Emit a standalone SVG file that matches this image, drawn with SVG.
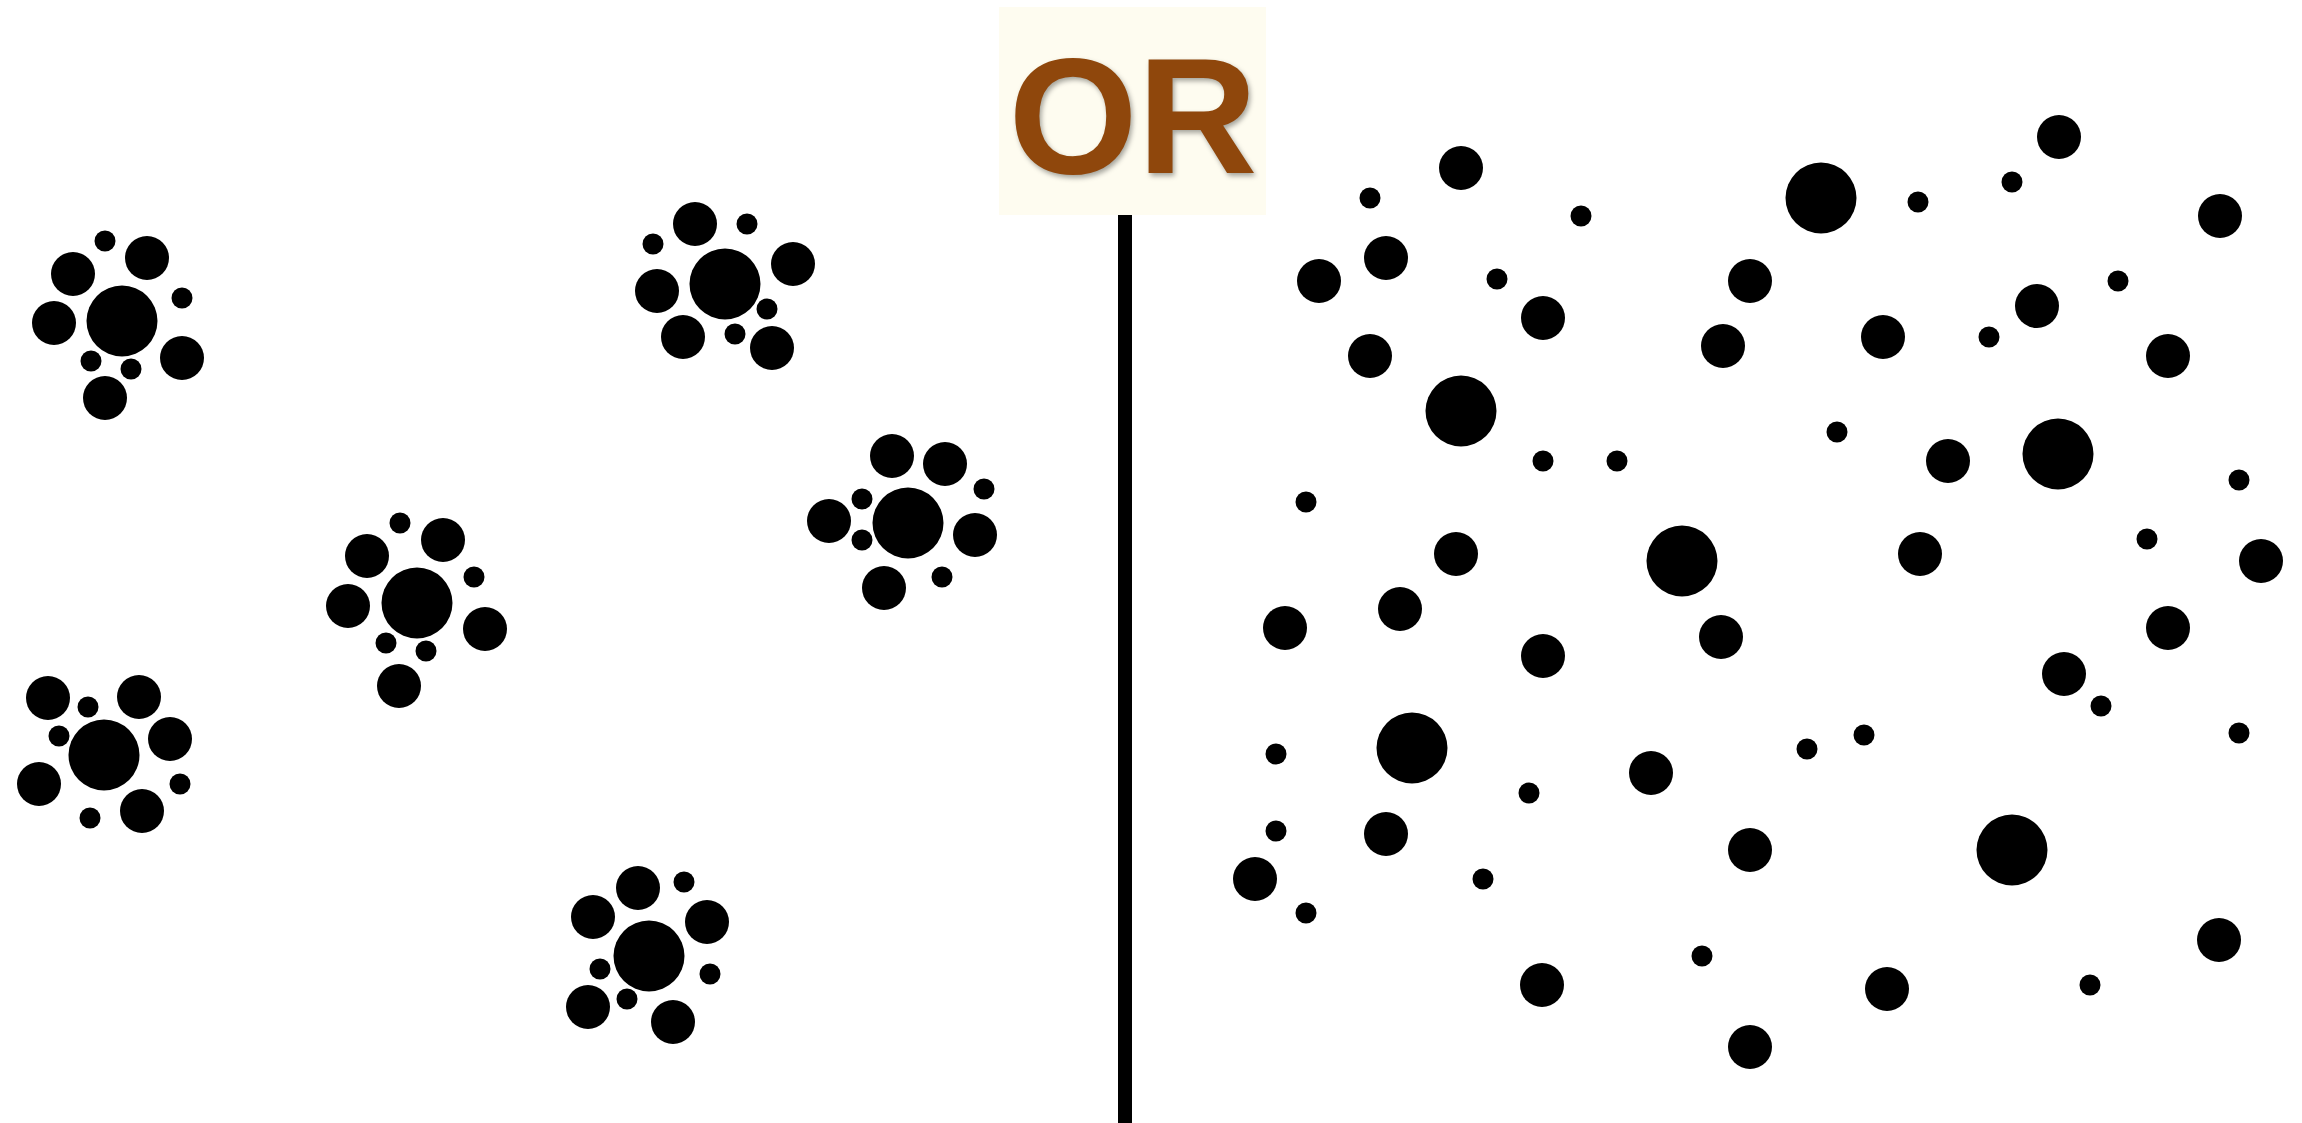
<svg xmlns="http://www.w3.org/2000/svg" width="2302" height="1123" viewBox="0 0 2302 1123">
<defs>
<style>
.d{fill:#000}
.or{font-family:"Liberation Sans",Arial,sans-serif;font-weight:bold;font-size:166px}
</style>
<filter id="blur" x="-20%" y="-20%" width="140%" height="140%">
<feGaussianBlur stdDeviation="2.5"/>
</filter>
</defs>
<rect width="2302" height="1123" fill="#fff"/>
<g id="or-label">
<rect x="999" y="7" width="267" height="208" fill="#fefcf0"/>
<text class="or" x="1135" y="176" text-anchor="middle" fill="#000" fill-opacity="0.35" filter="url(#blur)">OR</text>
<text class="or" x="1133" y="173" text-anchor="middle" fill="#8f470c">OR</text>
</g>
<g id="divider">
<rect x="1118" y="215" width="14" height="908" fill="#000"/>
</g>
<g id="cluster-a" class="d">
<circle cx="122" cy="321" r="35.5"/>
<circle cx="105" cy="241" r="10.5"/>
<circle cx="73" cy="274" r="22"/>
<circle cx="147" cy="258" r="22"/>
<circle cx="182" cy="298" r="10.5"/>
<circle cx="54" cy="323" r="22"/>
<circle cx="182" cy="358" r="22"/>
<circle cx="91" cy="361" r="10.5"/>
<circle cx="131" cy="369" r="10.5"/>
<circle cx="105" cy="398" r="22"/>
</g>
<g id="cluster-b" class="d">
<circle cx="725" cy="284" r="35.5"/>
<circle cx="695" cy="224" r="22"/>
<circle cx="747" cy="224" r="10.5"/>
<circle cx="653" cy="244" r="10.5"/>
<circle cx="793" cy="264" r="22"/>
<circle cx="657" cy="291" r="22"/>
<circle cx="767" cy="309" r="10.5"/>
<circle cx="735" cy="334" r="10.5"/>
<circle cx="683" cy="337" r="22"/>
<circle cx="772" cy="348" r="22"/>
</g>
<g id="cluster-c" class="d">
<circle cx="908" cy="523" r="35.5"/>
<circle cx="892" cy="456" r="22"/>
<circle cx="945" cy="464" r="22"/>
<circle cx="984" cy="489" r="10.5"/>
<circle cx="862" cy="499" r="10.5"/>
<circle cx="829" cy="521" r="22"/>
<circle cx="862" cy="540" r="10.5"/>
<circle cx="975" cy="535" r="22"/>
<circle cx="942" cy="577" r="10.5"/>
<circle cx="884" cy="588" r="22"/>
</g>
<g id="cluster-d" class="d">
<circle cx="417" cy="603" r="35.5"/>
<circle cx="400" cy="523" r="10.5"/>
<circle cx="367" cy="556" r="22"/>
<circle cx="443" cy="540" r="22"/>
<circle cx="474" cy="577" r="10.5"/>
<circle cx="348" cy="606" r="22"/>
<circle cx="485" cy="629" r="22"/>
<circle cx="386" cy="643" r="10.5"/>
<circle cx="426" cy="651" r="10.5"/>
<circle cx="399" cy="686" r="22"/>
</g>
<g id="cluster-e" class="d">
<circle cx="104" cy="755" r="35.5"/>
<circle cx="48" cy="698" r="22"/>
<circle cx="88" cy="707" r="10.5"/>
<circle cx="139" cy="697" r="22"/>
<circle cx="59" cy="736" r="10.5"/>
<circle cx="170" cy="739" r="22"/>
<circle cx="39" cy="784" r="22"/>
<circle cx="180" cy="784" r="10.5"/>
<circle cx="90" cy="818" r="10.5"/>
<circle cx="142" cy="811" r="22"/>
</g>
<g id="cluster-f" class="d">
<circle cx="649" cy="956" r="35.5"/>
<circle cx="638" cy="888" r="22"/>
<circle cx="684" cy="882" r="10.5"/>
<circle cx="593" cy="917" r="22"/>
<circle cx="707" cy="922" r="22"/>
<circle cx="600" cy="969" r="10.5"/>
<circle cx="710" cy="974" r="10.5"/>
<circle cx="627" cy="999" r="10.5"/>
<circle cx="588" cy="1007" r="22"/>
<circle cx="673" cy="1022" r="22"/>
</g>
<g id="scattered" class="d">
<circle cx="1461" cy="168" r="22"/>
<circle cx="1370" cy="198" r="10.5"/>
<circle cx="1581" cy="216" r="10.5"/>
<circle cx="1386" cy="258" r="22"/>
<circle cx="1319" cy="281" r="22"/>
<circle cx="1497" cy="279" r="10.5"/>
<circle cx="1543" cy="318" r="22"/>
<circle cx="1750" cy="281" r="22"/>
<circle cx="1723" cy="346" r="22"/>
<circle cx="1370" cy="356" r="22"/>
<circle cx="1461" cy="411" r="35.5"/>
<circle cx="1543" cy="461" r="10.5"/>
<circle cx="1617" cy="461" r="10.5"/>
<circle cx="1306" cy="502" r="10.5"/>
<circle cx="1821" cy="198" r="35.5"/>
<circle cx="1918" cy="202" r="10.5"/>
<circle cx="2012" cy="182" r="10.5"/>
<circle cx="2059" cy="137" r="22"/>
<circle cx="2220" cy="216" r="22"/>
<circle cx="2118" cy="281" r="10.5"/>
<circle cx="2037" cy="306" r="22"/>
<circle cx="1883" cy="337" r="22"/>
<circle cx="1989" cy="337" r="10.5"/>
<circle cx="2168" cy="356" r="22"/>
<circle cx="1837" cy="432" r="10.5"/>
<circle cx="1948" cy="461" r="22"/>
<circle cx="2058" cy="454" r="35.5"/>
<circle cx="2239" cy="480" r="10.5"/>
<circle cx="1456" cy="554" r="22"/>
<circle cx="1682" cy="561" r="35.5"/>
<circle cx="1920" cy="554" r="22"/>
<circle cx="2147" cy="539" r="10.5"/>
<circle cx="2261" cy="561" r="22"/>
<circle cx="1285" cy="628" r="22"/>
<circle cx="1400" cy="609" r="22"/>
<circle cx="1721" cy="637" r="22"/>
<circle cx="1543" cy="656" r="22"/>
<circle cx="2168" cy="628" r="22"/>
<circle cx="2064" cy="674" r="22"/>
<circle cx="2101" cy="706" r="10.5"/>
<circle cx="1276" cy="754" r="10.5"/>
<circle cx="1412" cy="748" r="35.5"/>
<circle cx="1651" cy="773" r="22"/>
<circle cx="1529" cy="793" r="10.5"/>
<circle cx="1807" cy="749" r="10.5"/>
<circle cx="1864" cy="735" r="10.5"/>
<circle cx="2239" cy="733" r="10.5"/>
<circle cx="1276" cy="831" r="10.5"/>
<circle cx="1386" cy="834" r="22"/>
<circle cx="1750" cy="850" r="22"/>
<circle cx="2012" cy="850" r="35.5"/>
<circle cx="1255" cy="879" r="22"/>
<circle cx="1483" cy="879" r="10.5"/>
<circle cx="1306" cy="913" r="10.5"/>
<circle cx="2219" cy="940" r="22"/>
<circle cx="1542" cy="985" r="22"/>
<circle cx="1702" cy="956" r="10.5"/>
<circle cx="1887" cy="989" r="22"/>
<circle cx="2090" cy="985" r="10.5"/>
<circle cx="1750" cy="1047" r="22"/>
</g>
</svg>
